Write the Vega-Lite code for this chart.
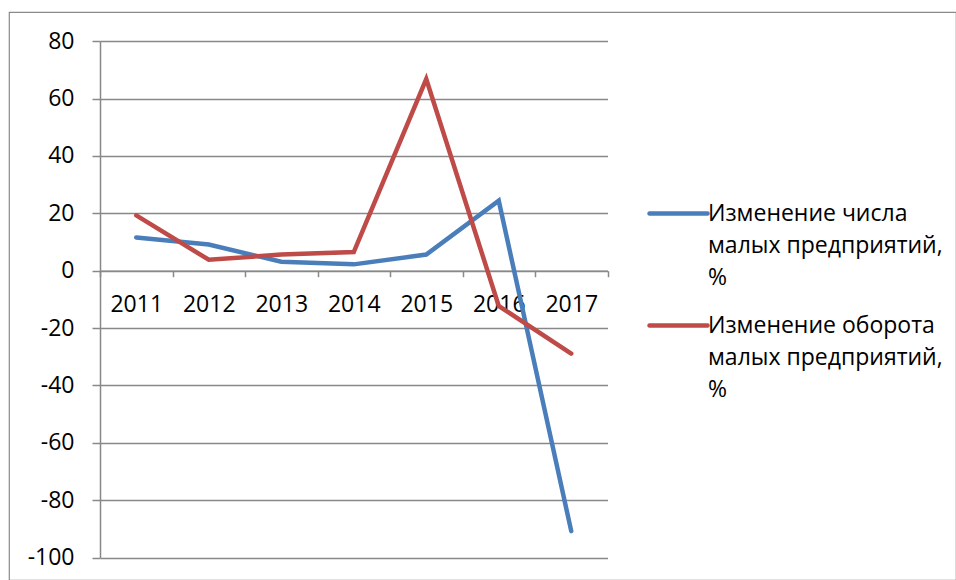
{
  "$schema": "https://vega.github.io/schema/vega-lite/v6.json",
  "width": 947,
  "height": 568,
  "autosize": {"type": "none"},
  "padding": {"left": 9, "top": 12, "right": 0, "bottom": 0},
  "background": "white",
  "config": {
    "view": {"stroke": "#8a8a8a", "strokeWidth": 1.2},
    "font": "Open Sans"
  },
  "data": {
    "values": [
      {"year": "2011", "series": "Изменение числа малых предприятий, %", "value": 11.6},
      {"year": "2012", "series": "Изменение числа малых предприятий, %", "value": 9.1},
      {"year": "2013", "series": "Изменение числа малых предприятий, %", "value": 3.1},
      {"year": "2014", "series": "Изменение числа малых предприятий, %", "value": 2.2},
      {"year": "2015", "series": "Изменение числа малых предприятий, %", "value": 5.6},
      {"year": "2016", "series": "Изменение числа малых предприятий, %", "value": 24.4},
      {"year": "2017", "series": "Изменение числа малых предприятий, %", "value": -90.8},
      {"year": "2011", "series": "Изменение оборота малых предприятий, %", "value": 19.3},
      {"year": "2012", "series": "Изменение оборота малых предприятий, %", "value": 3.8},
      {"year": "2013", "series": "Изменение оборота малых предприятий, %", "value": 5.6},
      {"year": "2014", "series": "Изменение оборота малых предприятий, %", "value": 6.5},
      {"year": "2015", "series": "Изменение оборота малых предприятий, %", "value": 66.8},
      {"year": "2016", "series": "Изменение оборота малых предприятий, %", "value": -12.3},
      {"year": "2017", "series": "Изменение оборота малых предприятий, %", "value": -28.9}
    ]
  },
  "mark": {"type": "line", "strokeWidth": 4.5, "strokeCap": "round", "strokeJoin": "miter", "clip": false},
  "encoding": {
    "x": {
      "field": "year",
      "type": "ordinal",
      "scale": {"type": "band", "range": [91, 598.5], "paddingInner": 0, "paddingOuter": 0},
      "axis": {
        "title": null,
        "orient": "bottom",
        "offset": -309.3,
        "tickBand": "extent",
        "grid": false,
        "domainColor": "#888888",
        "domainWidth": 1.5,
        "tickColor": "#888888",
        "tickWidth": 1.5,
        "tickSize": 6,
        "labelFont": "Open Sans",
        "labelFontSize": 23,
        "labelColor": "black",
        "labelPadding": 17,
        "labelAngle": 0
      }
    },
    "y": {
      "field": "value",
      "type": "quantitative",
      "scale": {"domain": [-100, 80], "range": [545.5, 29.2], "nice": false, "zero": false},
      "axis": {
        "title": null,
        "offset": -91,
        "values": [-100, -80, -60, -40, -20, 0, 20, 40, 60, 80],
        "labelExpr": "'' + datum.value",
        "grid": true,
        "gridColor": "#888888",
        "gridWidth": 1.5,
        "domainColor": "#888888",
        "domainWidth": 1.5,
        "tickColor": "#888888",
        "tickWidth": 1.5,
        "tickSize": 8,
        "labelFont": "Open Sans",
        "labelFontSize": 23,
        "labelColor": "black",
        "labelPadding": 18
      }
    },
    "color": {
      "field": "series",
      "type": "nominal",
      "scale": {
        "domain": ["Изменение числа малых предприятий, %", "Изменение оборота малых предприятий, %"],
        "range": ["#4A7EBB", "#BE4B48"]
      },
      "legend": {
        "orient": "none",
        "legendX": 638,
        "legendY": 170,
        "title": null,
        "symbolType": "stroke",
        "symbolSize": 3364,
        "symbolStrokeWidth": 4.5,
        "labelFont": "Open Sans",
        "labelFontSize": 23,
        "labelColor": "black",
        "labelOffset": -2,
        "rowPadding": 4,
        "labelLimit": 400,
        "labelExpr": "split(replace(replace(datum.label, ' малых', '|малых'), ', %', ',|%'), '|')",
        "encode": {
          "labels": {"update": {"lineHeight": {"value": 32}}},
          "symbols": {"update": {"strokeCap": {"value": "round"}}}
        }
      }
    }
  }
}
